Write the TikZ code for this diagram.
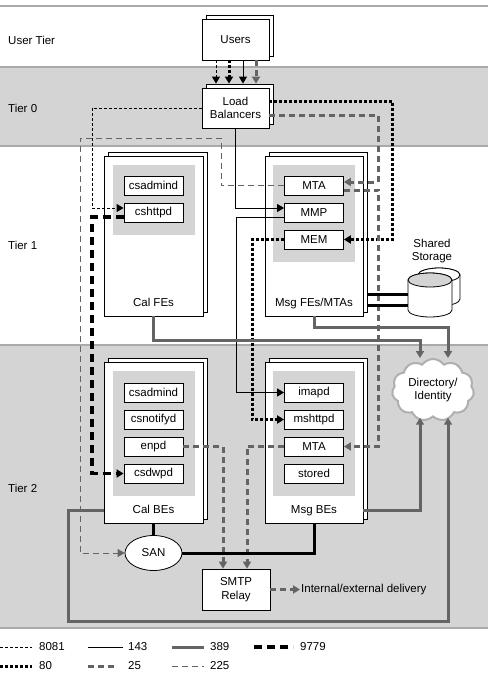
\documentclass[tikz,border=0pt]{standalone}
\usepackage{fontspec}
\setmainfont{Liberation Sans}
\usetikzlibrary{shapes.geometric, shapes.symbols, arrows.meta, shadows}

\definecolor{bandgray}{RGB}{212,212,212}
\definecolor{rulegray}{RGB}{170,170,170}
\definecolor{linkgray}{RGB}{100,100,100}
\definecolor{softgray}{RGB}{100,100,100}
\definecolor{cloudgray}{RGB}{175,175,175}

\begin{document}
\begin{tikzpicture}[
  x=1pt, y=-1pt,
  font=\fontsize{11.5}{13.5}\selectfont,
  tierbox/.style ={rectangle, draw, fill=white, line width=0.8pt, inner sep=0pt,
                   copy shadow={shadow xshift=4pt, shadow yshift=4pt}},
  panel/.style   ={rectangle, fill=bandgray, minimum width=82pt, inner sep=0pt},
  svc/.style     ={rectangle, draw, fill=white, line width=0.8pt, minimum width=59pt,
                   minimum height=19pt, inner sep=0pt},
  tier/.style    ={anchor=west, inner sep=0pt},
  arr/.style     ={-{Triangle[length=7pt, width=8pt]}},
  p8081/.style   ={draw=black, line width=0.8pt, dash pattern=on 3pt off 2pt},
  p80/.style     ={draw=black, line width=3pt, dash pattern=on 3pt off 2pt},
  p143/.style    ={draw=black, line width=0.9pt},
  p25/.style     ={draw=linkgray, line width=3pt, dash pattern=on 6pt off 4pt},
  p389/.style    ={draw=linkgray, line width=3pt},
  p9779/.style   ={draw=black, line width=3.2pt, dash pattern=on 8pt off 5pt},
  p225/.style    ={draw=softgray, line width=0.8pt, dash pattern=on 6pt off 4pt},
  disk/.style    ={draw=black, line width=3pt},
]
\useasboundingbox (0,0) rectangle (488,683);

% --- Tier bands ---
\fill[bandgray] (0,67) rectangle (488,146);
\fill[bandgray] (0,345) rectangle (488,628);
\draw[rulegray, line width=2pt] (0,6) -- (488,6);
\draw[rulegray, line width=2pt] (0,67) -- (488,67);
\draw[rulegray, line width=2pt] (0,146) -- (488,146);
\draw[rulegray, line width=2pt] (0,345) -- (488,345);
\draw[rulegray, line width=2pt] (0,628) -- (488,628);

\node[tier] (tuser) at (8,40)  {User Tier};
\node[tier] (tzero) at (8,108) {Tier 0};
\node[tier] (tone)  at (8,245) {Tier 1};
\node[tier] (ttwo)  at (8,488) {Tier 2};

% --- User tier and tier 0 ---
\node[tierbox, minimum width=67pt, minimum height=41pt] (users) at (235.5,39.5) {Users};
\node[tierbox, minimum width=67pt, minimum height=40pt, align=center] (lb) at (235.5,108) {Load\\Balancers};

% --- Tier 1: front ends ---
\node[tierbox, minimum width=99pt, minimum height=160pt,
      label={[anchor=base, yshift=10pt]south:Cal FEs}] (calfe) at (153.5,236) {};
\node[panel, minimum height=70pt] (calfepan) at (154,200) {};
\node[svc] (cfadmin) at (153.5,185.5) {csadmind};
\node[svc] (cfhttp)  at (153.5,212.5) {cshttpd};

\node[tierbox, minimum width=98pt, minimum height=160pt,
      label={[anchor=base, yshift=10pt]south:Msg FEs/MTAs}] (msgfe) at (314,236) {};
\node[panel, minimum height=97pt] (msgfepan) at (314,213.5) {};
\node[svc] (mfmta) at (314,185.5) {MTA};
\node[svc] (mfmmp) at (314,212.5) {MMP};
\node[svc] (mfmem) at (314,239.5) {MEM};

% --- Shared storage ---
\node[align=center] (storelbl) at (432,251) {Shared\\Storage};
\draw[fill=white, line width=0.8pt] (418,275) -- (418,299)
  arc[start angle=180, end angle=0, x radius=21, y radius=7] -- (460,275)
  arc[start angle=0, end angle=-180, x radius=21, y radius=7] -- cycle;
\draw[fill=white, line width=0.8pt] (439,275) ellipse[x radius=21, y radius=7];
\draw[fill=white, line width=0.8pt] (408,280) -- (408,310)
  arc[start angle=180, end angle=0, x radius=22, y radius=7] -- (452,280)
  arc[start angle=0, end angle=-180, x radius=22, y radius=7] -- cycle;
\draw[fill=bandgray, line width=0.8pt] (430,280) ellipse[x radius=22, y radius=7];
\coordinate (store) at (408,299.5);

% --- Tier 2: back ends ---
\node[tierbox, minimum width=99pt, minimum height=161pt,
      label={[anchor=base, yshift=10pt]south:Cal BEs}] (calbe) at (153.5,442.5) {};
\node[panel, minimum height=125pt] (calbepan) at (154,433.5) {};
\node[svc] (cbadmin)  at (153.5,392.5) {csadmind};
\node[svc] (cbnotify) at (153.5,419.5) {csnotifyd};
\node[svc] (cbenp)    at (153.5,446.5) {enpd};
\node[svc] (cbdwp)    at (153.5,473.5) {csdwpd};

\node[tierbox, minimum width=98pt, minimum height=161pt,
      label={[anchor=base, yshift=10pt]south:Msg BEs}] (msgbe) at (314,442.5) {};
\node[panel, minimum height=125pt] (msgbepan) at (314,433.5) {};
\node[svc] (mbimap)  at (314,392.5) {imapd};
\node[svc] (mbhttp)  at (314,419.5) {mshttpd};
\node[svc] (mbmta)   at (314,446.5) {MTA};
\node[svc] (mbstore) at (314,473.5) {stored};

\node[cloud, cloud puffs=11, cloud puff arc=110, aspect=1.35, draw=cloudgray, line width=2pt,
      fill=white, minimum width=82pt, minimum height=62pt, inner sep=0pt, align=center]
      (dir) at (433,390) {Directory/\\Identity};

\node[ellipse, draw, fill=white, line width=0.8pt, minimum width=57pt, minimum height=35pt,
      inner sep=0pt] (san) at (153.5,553) {SAN};
\node[rectangle, draw, fill=white, line width=0.8pt, minimum width=68pt, minimum height=41pt,
      align=center] (smtp) at (236,589.5) {SMTP\\Relay};
\node[anchor=west, inner sep=1pt] (dlv) at (300,589.5) {Internal/external delivery};

% --- Users to load balancers ---
\draw[p8081, arr] (users.south -| 216,0) -- ([yshift=4pt]lb.north -| 216,0);
\draw[p80, arr]   (users.south -| 229,0) -- ([yshift=4pt]lb.north -| 229,0);
\draw[p143, arr]  (users.south -| 243,0) -- ([yshift=4pt]lb.north -| 243,0);
\draw[p25, arr]   (users.south -| 256,0) -- ([yshift=4pt]lb.north -| 256,0);

% --- Port 8081 and 9779 ---
\draw[p8081, arr] (lb.west) -| (92,208) -- ([yshift=4.5pt]cfhttp.west);
\draw[p9779, arr] ([yshift=-4.5pt]cfhttp.west) -- (92,217) |- (cbdwp.west);

% --- Port 143 ---
\draw[p143, arr] (lb.south) |- ([yshift=4.5pt]mfmmp.west);
\draw[p143, arr] ([yshift=-4.5pt]mfmmp.west) -- (236,217) |- (mbimap.west);

% --- Port 80 ---
\draw[p80, arr] ([yshift=7pt]lb.east) -- ++(123,0) |- (mfmem.east);
\draw[p80, arr] (mfmem.west) -- ++(-32,0) |- (mbhttp.west);

% --- Port 25 ---
\draw[p25, arr] ([yshift=-7pt]lb.east) -- ++(109,0) |- ([yshift=3.5pt]mfmta.east);
\draw[p25, arr] ([yshift=-4.5pt]mfmta.east) -- ++(35,0) |- (mbmta.east);
\draw[p25, arr] (mbmta.west) -| ([xshift=11pt]smtp.north);
\draw[p25, arr] (cbenp.east) -| ([xshift=-13pt]smtp.north);
\draw[p25, arr] (smtp.east) -- (dlv.west);

% --- Port 225 ---
\draw[p225, arr] (mfmta.west) -- ++(-63,0) |- (80,138) |- (san.west);

% --- Port 389 ---
\draw[p389, arr] (calfe.south) |- (420,340) -- (dir.north -| 420,0);
\draw[p389, arr] (msgfe.south) |- (448,327) -- (dir.north -| 448,0);
\draw[p389, arr] (msgbe.east |- 0,510) -| (dir.south -| 420,0);
\draw[p389, arr] (calbe.west |- 0,510) -- (68,510) |- (448,621) -- (dir.south -| 448,0);

% --- Storage links ---
\draw[disk] (calbe.south) -- (san.north);
\draw[disk] (san.east) -| (msgbe.south);
\draw[disk] ([xshift=4pt]msgfe.east |- 0,294) -- (store |- 0,294);
\draw[disk] ([xshift=4pt]msgfe.east |- 0,305) -- (store |- 0,305);

% --- Legend ---
\draw[p8081] (0,647) -- (32,647);   \node[tier] (k8081) at (39,647)  {8081};
\draw[p143]  (88,647) -- (123,647); \node[tier] (k143)  at (128,647) {143};
\draw[p389]  (172,647) -- (204,647);\node[tier] (k389)  at (210,647) {389};
\draw[p9779] (254,647) -- (293,647);\node[tier] (k9779) at (300,647) {9779};
\draw[p80]   (0,666) -- (32,666);   \node[tier] (k80)   at (39,666)  {80};
\draw[p25]   (88,666) -- (115,666); \node[tier] (k25)   at (128,666) {25};
\draw[p225]  (172,666) -- (204,666);\node[tier] (k225)  at (210,666) {225};
\end{tikzpicture}
\end{document}
